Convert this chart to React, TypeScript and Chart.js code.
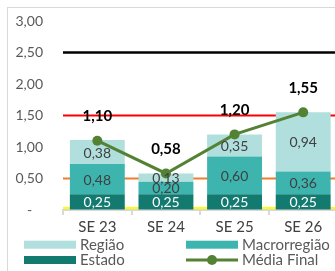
import React, { useEffect, useRef } from "react";
import { Chart, registerables } from "chart.js";

Chart.register(...registerables);

const categories = ["SE 23", "SE 24", "SE 25", "SE 26"];
const estado = [0.25, 0.25, 0.25, 0.25];
const macrorregiao = [0.48, 0.2, 0.6, 0.36];
const regiao = [0.38, 0.13, 0.35, 0.94];
const mediaFinal = [1.1, 0.58, 1.2, 1.55];
const yMin = 0;
const yMax = 3;
const yStep = 0.5;
const refValues = [2.5, 1.5, 0.5, 0.03];
const refColors = ["#000000", "#FF0000", "#ED7D31", "#FFFF00"];
const refWidths = [2.5, 2, 2, 2];

const COL_REGIAO = "#B0DFDD";
const COL_MACRO = "#3DB5AE";
const COL_ESTADO = "#137A70";
const COL_MEDIA = "#548235";
const FONT = "Lato";

const fmt = (v: number) => v.toFixed(2).replace(".", ",");

const refLinePlugin = {
  id: "refLines",
  beforeDatasetsDraw(chart: any) {
    const { ctx, chartArea, scales } = chart;
    ctx.save();
    refValues.forEach((v, i) => {
      const y = scales.y.getPixelForValue(v);
      ctx.strokeStyle = refColors[i];
      ctx.lineWidth = refWidths[i];
      ctx.beginPath();
      ctx.moveTo(chartArea.left, y);
      ctx.lineTo(chartArea.right, y);
      ctx.stroke();
    });
    ctx.restore();
  },
};

const labelPlugin = {
  id: "valueLabels",
  afterDatasetsDraw(chart: any) {
    const { ctx } = chart;
    ctx.save();
    ctx.textAlign = "center";
    ctx.textBaseline = "middle";
    chart.data.datasets.forEach((ds: any, di: number) => {
      const meta = chart.getDatasetMeta(di);
      meta.data.forEach((el: any, j: number) => {
        const v = ds.data[j];
        if (ds.type === "line") {
          ctx.font = `bold 15px ${FONT}`;
          ctx.fillStyle = "#000000";
          ctx.fillText(fmt(v), el.x, el.y - 24.5);
        } else {
          ctx.font = `14px ${FONT}`;
          ctx.fillStyle = ds.labelColor;
          ctx.fillText(fmt(v), el.x, (el.y + el.base) / 2 + 1);
        }
      });
    });
    ctx.restore();
  },
};

const legendItems = [
  { text: "Região", color: COL_REGIAO, kind: "box", col: 0, row: 0 },
  { text: "Macrorregião", color: COL_MACRO, kind: "box", col: 1, row: 0 },
  { text: "Estado", color: COL_ESTADO, kind: "box", col: 0, row: 1 },
  { text: "Média Final", color: COL_MEDIA, kind: "line", col: 1, row: 1 },
];
const legendColX = [16, 178];
const legendRowY = [236.7, 252];

const legendPlugin = {
  id: "customLegend",
  afterDraw(chart: any) {
    const { ctx } = chart;
    ctx.save();
    ctx.font = `15px ${FONT}`;
    ctx.textBaseline = "middle";
    ctx.textAlign = "left";
    legendItems.forEach((it) => {
      const x = legendColX[it.col];
      const y = legendRowY[it.row];
      if (it.kind === "box") {
        ctx.fillStyle = it.color;
        ctx.fillRect(x, y - 4, 52, 8);
      } else {
        ctx.strokeStyle = it.color;
        ctx.lineWidth = 3;
        ctx.beginPath();
        ctx.moveTo(x, y);
        ctx.lineTo(x + 52, y);
        ctx.stroke();
        ctx.fillStyle = it.color;
        ctx.beginPath();
        ctx.arc(x + 26, y, 5, 0, Math.PI * 2);
        ctx.fill();
      }
      ctx.fillStyle = "#595959";
      ctx.fillText(it.text, x + 56, y + 0.5);
    });
    ctx.restore();
  },
};

export default function App() {
  const ref = useRef<HTMLCanvasElement>(null);
  useEffect(() => {
    if (!ref.current) return;
    const chart = new Chart(ref.current, {
      type: "bar",
      data: {
        labels: categories,
        datasets: [
          {
            type: "line",
            label: "Média Final",
            data: mediaFinal,
            borderColor: COL_MEDIA,
            backgroundColor: COL_MEDIA,
            borderWidth: 3,
            pointRadius: 5,
            pointBackgroundColor: COL_MEDIA,
            pointBorderWidth: 0,
            order: 0,
            stack: "line",
          } as any,
          {
            type: "bar",
            label: "Estado",
            data: estado,
            backgroundColor: COL_ESTADO,
            order: 1,
            stack: "s",
            labelColor: "#FFFFFF",
          } as any,
          {
            type: "bar",
            label: "Macrorregião",
            data: macrorregiao,
            backgroundColor: COL_MACRO,
            order: 1,
            stack: "s",
            labelColor: "#404040",
          } as any,
          {
            type: "bar",
            label: "Região",
            data: regiao,
            backgroundColor: COL_REGIAO,
            order: 1,
            stack: "s",
            labelColor: "#404040",
          } as any,
        ],
      },
      options: {
        animation: false,
        responsive: false,
        devicePixelRatio: 1,
        events: [],
        layout: { padding: { top: 13, left: 0, right: 10.5, bottom: 34 } },
        datasets: { bar: { barPercentage: 0.8, categoryPercentage: 1 } },
        plugins: { legend: { display: false }, tooltip: { enabled: false } },
        scales: {
          x: {
            type: "category",
            stacked: true,
            offset: true,
            grid: {
              offset: true,
              drawOnChartArea: false,
              drawTicks: true,
              tickLength: 5,
              color: "#D9D9D9",
              lineWidth: 2,
            },
            border: { display: true, color: "#D9D9D9", width: 2 },
            ticks: { color: "#404040", font: { family: FONT, size: 15 }, padding: 3 },
            afterFit: (s: any) => {
              s.height = 28;
            },
          },
          y: {
            stacked: true,
            min: yMin,
            max: yMax,
            grid: {
              display: true,
              drawOnChartArea: false,
              drawTicks: true,
              tickLength: 20,
              color: "rgba(0,0,0,0)",
            },
            border: { display: false },
            ticks: {
              stepSize: yStep,
              color: "#595959",
              font: { family: FONT, size: 14 },
              padding: 0,
              callback: (v: any) => (Number(v) === 0 ? "-   " : fmt(Number(v))),
            },
            afterFit: (s: any) => {
              s.width = 55;
            },
          },
        },
      } as any,
      plugins: [refLinePlugin, labelPlugin, legendPlugin],
    });
    return () => chart.destroy();
  }, []);

  return (
    <div
      style={{
        position: "fixed",
        left: 0,
        top: 0,
        width: 335,
        height: 271,
        overflow: "hidden",
        background: "#FFFFFF",
      }}
    >
      <div
        style={{
          position: "absolute",
          left: 7,
          top: 7,
          width: 345,
          height: 280,
          border: "1px solid #D9D9D9",
          boxSizing: "border-box",
        }}
      >
        <canvas
          ref={ref}
          width={340}
          height={264}
          style={{ position: "absolute", left: 0, top: 0, display: "block" }}
        />
      </div>
    </div>
  );
}
